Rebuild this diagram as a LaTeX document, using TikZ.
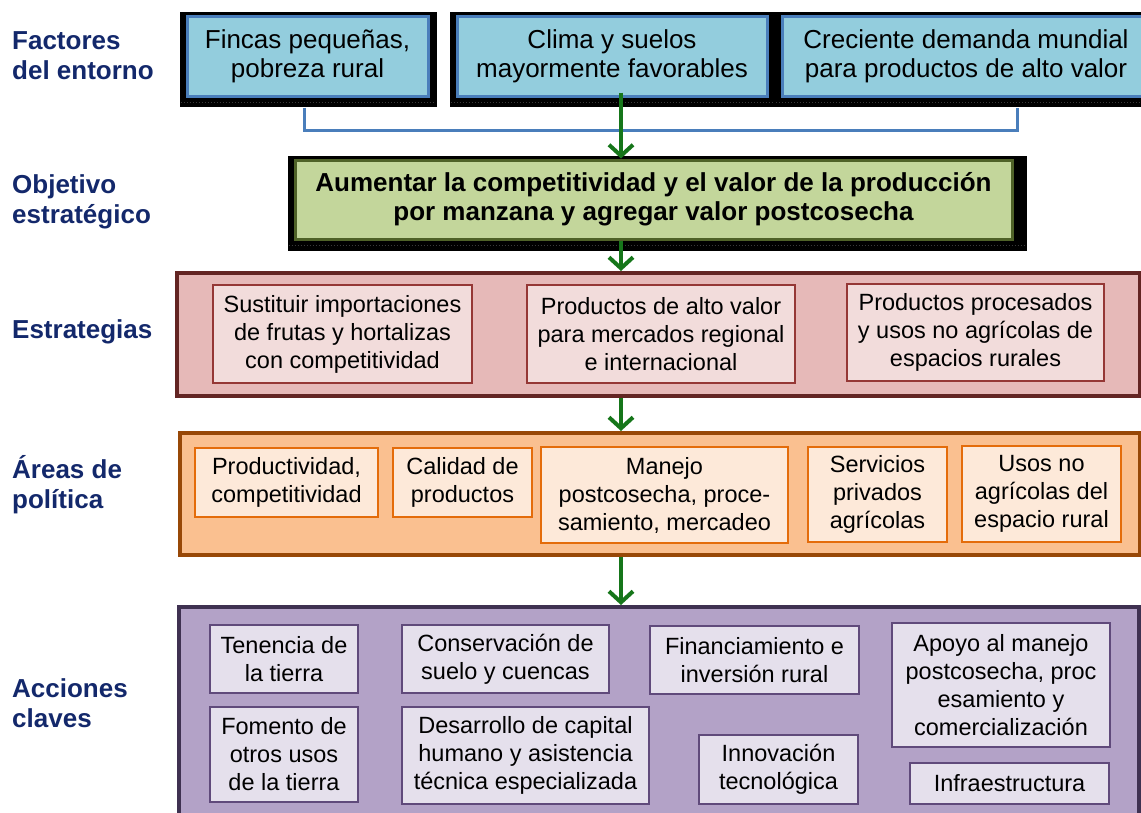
\documentclass[tikz,border=0pt]{standalone}
\usepackage{fontspec}
\setmainfont{Liberation Sans}
\usepackage{tikz}
\usetikzlibrary{arrows.meta, calc, backgrounds}
\definecolor{navy}{HTML}{13286B}
\definecolor{factfondo}{HTML}{93CDDD}
\definecolor{factborde}{HTML}{4A7EBB}
\definecolor{objfondo}{HTML}{C3D69B}
\definecolor{objborde}{HTML}{4F6228}
\definecolor{estrfondo}{HTML}{E6B9B8}
\definecolor{estrborde}{HTML}{632523}
\definecolor{estrclaro}{HTML}{F2DCDB}
\definecolor{estrcaja}{HTML}{953735}
\definecolor{areafondo}{HTML}{FAC090}
\definecolor{areaborde}{HTML}{984807}
\definecolor{areaclaro}{HTML}{FDE9D9}
\definecolor{areacaja}{HTML}{E46C0A}
\definecolor{accfondo}{HTML}{B3A2C7}
\definecolor{accborde}{HTML}{3F3151}
\definecolor{accclaro}{HTML}{E5E0EC}
\definecolor{acccaja}{HTML}{604A7B}
\definecolor{verde}{HTML}{16761A}

\begin{document}
\begin{tikzpicture}[x=1pt, y=-1pt,
  nivel/.style={anchor=west, inner sep=0pt, align=left, text=navy, font=\fontsize{26}{30}\selectfont\bfseries},
  factor/.style={draw=factborde, fill=factfondo, line width=3pt, inner sep=1pt, align=center,
                 font=\fontsize{26}{29}\selectfont},
  objbox/.style={draw=objborde, fill=objfondo, line width=3pt, inner sep=1pt, align=center,
                 font=\fontsize{26}{29}\selectfont\bfseries},
  panel/.style={line width=4pt, inner sep=0pt},
  caja/.style={line width=2pt, inner sep=1pt, align=center, font=\fontsize{23.5}{28}\selectfont},
  estr/.style={caja, draw=estrcaja, fill=estrclaro},
  area/.style={caja, draw=areacaja, fill=areaclaro},
  accion/.style={caja, draw=acccaja, fill=accclaro},
  flecha/.style={draw=verde, line width=4pt, -{Straight Barb[length=11pt,width=24pt]}},
  corchete/.style={draw=factborde, line width=3pt},
  marco/.style={fill=black},
]
  \useasboundingbox (0,0) rectangle (1141,812);

  \node[nivel] (lfact) at (12,56) {Factores\\del entorno};
  \node[nivel] (lobj) at (12,202) {Objetivo\\estratégico};
  \node[nivel] (lestr) at (12,332) {Estrategias};
  \node[nivel] (larea) at (12,485) {Áreas de\\política};
  \node[nivel] (lacc) at (12,703) {Acciones\\claves};

  \node[factor, minimum width=241pt, minimum height=80pt] (fincas) at (307.5,56) {Fincas pequeñas,\\pobreza rural};
  \node[factor, minimum width=310pt, minimum height=80pt] (clima) at (612,56) {Clima y suelos\\mayormente favorables};
  \node[factor, minimum width=367pt, minimum height=80pt] (demanda) at (966,56) {Creciente demanda mundial\\para productos de alto valor};

  \node[objbox, minimum width=717pt, minimum height=79pt] (objetivo) at (653.5,199.5)
    {Aumentar la competitividad y el valor de la producción\\por manzana y agregar valor postcosecha};

  \node[panel, draw=estrborde, fill=estrfondo, minimum width=963pt, minimum height=123pt] (estrategias) at (658.5,334.5) {};
  \node[estr, minimum width=259pt, minimum height=98pt] (sustituir) at (342.5,334) {Sustituir importaciones\\de frutas y hortalizas\\con competitividad};
  \node[estr, minimum width=268pt, minimum height=98pt] (altovalor) at (661,334) {Productos de alto valor\\para mercados regional\\e internacional};
  \node[estr, minimum width=257pt, minimum height=97pt] (procesados) at (975.5,332.5) {Productos procesados\\y usos no agrícolas de\\espacios rurales};

  \node[panel, draw=areaborde, fill=areafondo, minimum width=960pt, minimum height=122pt] (areas) at (660,494) {};
  \node[area, minimum width=183pt, minimum height=69pt] (productividad) at (286.5,482.5) {Productividad,\\competitividad};
  \node[area, minimum width=139pt, minimum height=69pt] (calidad) at (462.5,482.5) {Calidad de\\productos};
  \node[area, minimum width=247pt, minimum height=96pt] (manejo) at (664.5,495) {Manejo\\postcosecha, proce-\\samiento, mercadeo};
  \node[area, minimum width=139pt, minimum height=95pt] (servicios) at (877.5,494.5) {Servicios\\privados\\agrícolas};
  \node[area, minimum width=159pt, minimum height=96pt] (usos) at (1041.5,494) {Usos no\\agrícolas del\\espacio rural};

  \node[panel, draw=accborde, fill=accfondo, minimum width=960pt, minimum height=233pt] (acciones) at (659,723.5) {};
  \node[accion, minimum width=148pt, minimum height=68pt] (tenencia) at (284,659) {Tenencia de\\la tierra};
  \node[accion, minimum width=207pt, minimum height=68pt] (conservacion) at (505.5,659) {Conservación de\\suelo y cuencas};
  \node[accion, minimum width=209pt, minimum height=68pt] (financiamiento) at (754.5,660) {Financiamiento e\\inversión rural};
  \node[accion, minimum width=218pt, minimum height=124pt] (apoyo) at (1001,685) {Apoyo al manejo\\postcosecha, proc\\esamiento y\\comercialización};
  \node[accion, minimum width=148pt, minimum height=95pt] (fomento) at (284,754.5) {Fomento de\\otros usos\\de la tierra};
  \node[accion, minimum width=247pt, minimum height=97pt] (desarrollo) at (525.5,755.5) {Desarrollo de capital\\humano y asistencia\\técnica especializada};
  \node[accion, minimum width=159pt, minimum height=69pt] (innovacion) at (778.5,769.5) {Innovación\\tecnológica};
  \node[accion, minimum width=199pt, minimum height=41pt] (infra) at (1009.5,783.5) {Infraestructura};

  \coordinate (eje) at (621,0);
  \coordinate (llave) at (621,130);

  \begin{scope}[on background layer]
    \draw[corchete] ([xshift=-3.5pt,yshift=-10pt]fincas.south) |- (llave) -| ([xshift=51pt,yshift=-10pt]demanda.south);
    \foreach \n/\r/\b in {fincas/7/9, clima/7/9, demanda/7/9, objetivo/13/10} {
      \fill[marco] ($(\n.north west)+(-6,-3)$) rectangle ($(\n.south east)+(\r,\b)$);
      \draw[gray!45!black, line width=1.2pt, dash pattern=on 1pt off 2pt]
        ($(\n.south west)+(-5,5)$) -- ($(\n.south east)+(\r-2,5)$);
    }
  \end{scope}

  \draw[flecha] ($(clima.south -| eje)+(0,-5)$) -- (objetivo.north -| eje);
  \draw[flecha] (objetivo.south -| eje) -- (estrategias.north -| eje);
  \draw[flecha] (estrategias.south -| eje) -- (areas.north -| eje);
  \draw[flecha] (areas.south -| eje) -- (acciones.north -| eje);
\end{tikzpicture}
\end{document}
